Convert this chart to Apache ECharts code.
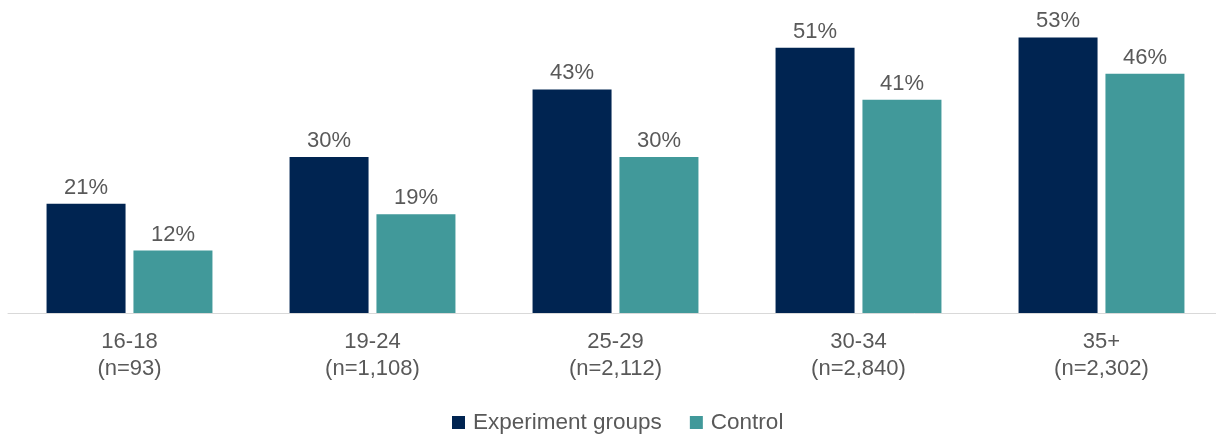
<!DOCTYPE html>
<html>
<head>
<meta charset="utf-8">
<script src="https://cdn.jsdelivr.net/npm/echarts@6/dist/echarts.min.js"></script>
<style>
  html, body { margin: 0; padding: 0; background: #fff; }
  #chart { width: 1216px; height: 441px; }
</style>
</head>
<body>
<div id="chart"></div>
<script>
  const categories = ['16-18\n(n=93)', '19-24\n(n=1,108)', '25-29\n(n=2,112)', '30-34\n(n=2,840)', '35+\n(n=2,302)'];
  const experiment = [21, 30, 43, 51, 53];
  const control = [12, 19, 30, 41, 46];

  const textColor = '#595959';
  const font = 'Liberation Sans, Arial, sans-serif';

  const labelStyle = {
    show: true,
    position: 'top',
    distance: 5,
    color: textColor,
    fontSize: 22,
    fontFamily: font,
    formatter: p => p.value + '%'
  };

  const chart = echarts.init(document.getElementById('chart'));
  chart.setOption({
    animation: false,
    grid: { left: 8, width: 1215, top: 1, bottom: 128, containLabel: false, outerBoundsMode: 'none' },
    legend: {
      bottom: 2,
      left: 447,
      icon: 'rect',
      itemWidth: 13,
      itemHeight: 13,
      itemGap: 28,
      textStyle: { color: textColor, fontSize: 22.5, fontFamily: font, padding: [0, 0, 0, 3] },
      data: ['Experiment groups', 'Control']
    },
    xAxis: {
      type: 'category',
      data: categories,
      axisLine: { show: true, lineStyle: { color: '#d9d9d9', width: 1 } },
      axisTick: { show: false },
      axisLabel: {
        color: textColor,
        fontSize: 22,
        fontFamily: font,
        lineHeight: 27,
        margin: 15
      }
    },
    yAxis: {
      type: 'value',
      min: 0,
      max: 60,
      show: false,
      splitLine: { show: false }
    },
    series: [
      {
        name: 'Experiment groups',
        type: 'bar',
        data: experiment,
        barWidth: 79,
        barGap: '10%',
        itemStyle: { color: '#002451' },
        label: labelStyle
      },
      {
        name: 'Control',
        type: 'bar',
        data: control,
        barWidth: 79,
        itemStyle: { color: '#41999a' },
        label: labelStyle
      }
    ]
  });
</script>
</body>
</html>
